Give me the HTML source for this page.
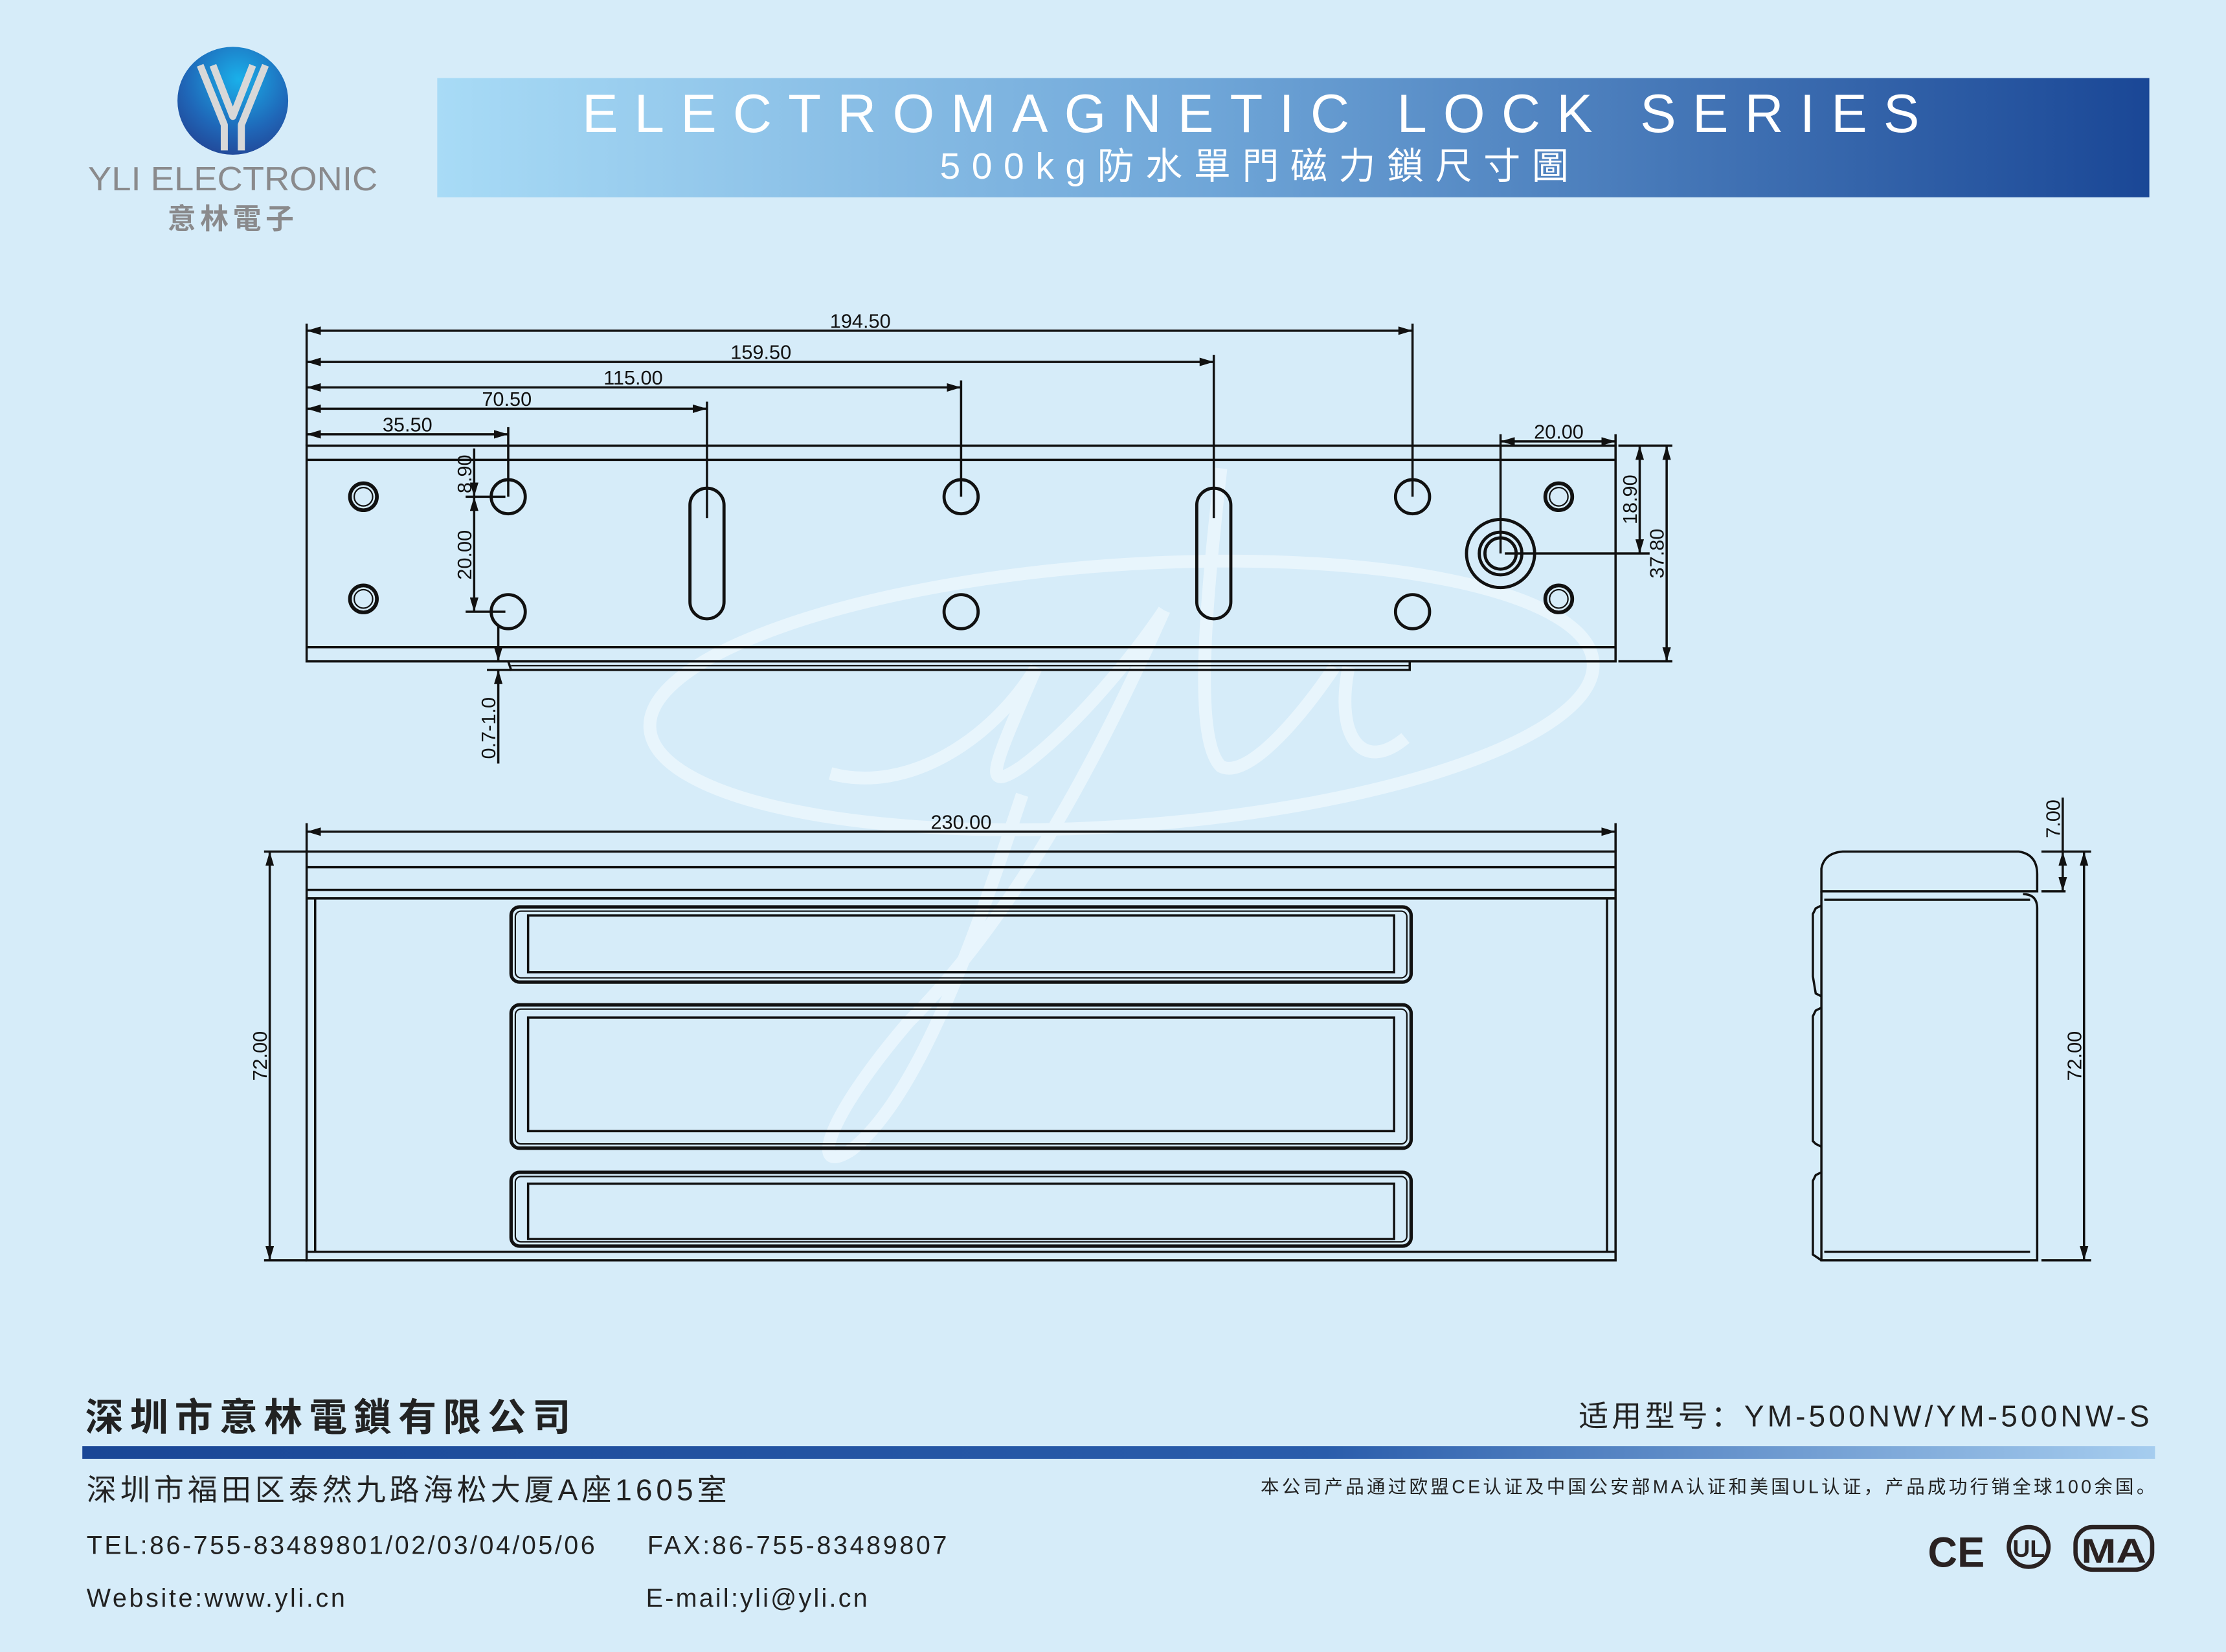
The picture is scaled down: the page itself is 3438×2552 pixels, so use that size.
<!DOCTYPE html>
<html><head><meta charset="utf-8"><style>
html,body{margin:0;padding:0;background:#d6ecf9;}
svg{display:block;}
text{font-family:"Liberation Sans","Noto Sans CJK SC",sans-serif;}
</style></head><body>
<svg width="3438" height="2552" viewBox="0 0 1568 1164" preserveAspectRatio="none" xmlns="http://www.w3.org/2000/svg">
<defs>
<linearGradient id="ban" x1="0" x2="1" y1="0" y2="0"><stop offset="0" stop-color="#a8dbf6"/><stop offset="0.45" stop-color="#6fa6d8"/><stop offset="1" stop-color="#1a4796"/></linearGradient>
<linearGradient id="bar" x1="0" x2="1"><stop offset="0" stop-color="#1a4796"/><stop offset="0.6" stop-color="#2a5dab"/><stop offset="1" stop-color="#a6cdef"/></linearGradient>
<radialGradient id="lg" cx="0.55" cy="0.3" r="0.8"><stop offset="0" stop-color="#1ab0ea"/><stop offset="0.6" stop-color="#1f67b8"/><stop offset="1" stop-color="#233f8f"/></radialGradient>
<marker id="a" viewBox="0 0 10 6" refX="10" refY="3" markerWidth="10" markerHeight="6" markerUnits="userSpaceOnUse" orient="auto-start-reverse"><path d="M0,0L10,3L0,6z" fill="#111"/></marker>
</defs>
<rect width="1568" height="1164" fill="#d6ecf9"/>
<!-- watermark -->
<g fill="none" stroke="#eef8fe" stroke-width="9" opacity="0.75">
<ellipse cx="790" cy="490" rx="333" ry="92" transform="rotate(-4 790 490)"/>
<path d="M585 545 C640 560 700 520 730 470 M730 470 C700 540 690 560 720 540 C760 510 800 460 820 430 M820 430 C780 520 720 640 640 720 C580 790 570 830 600 810 C650 770 690 650 720 560 M860 330 C850 420 840 520 860 540 C880 550 920 500 940 470 M950 470 C940 520 960 545 990 520"/>
</g>
<!-- logo -->
<ellipse cx="164" cy="71" rx="39" ry="38" fill="url(#lg)"/>
<path d="M141 46 L158 88 L158 106 M187 46 L170 88 L170 106 M150 46 L164 82 L178 46" fill="none" stroke="#d8d8d8" stroke-width="5" stroke-linejoin="round"/>
<text x="164" y="134" font-size="23.5" fill="#8a8a8c" text-anchor="middle" textLength="204" lengthAdjust="spacingAndGlyphs">YLI ELECTRONIC</text>
<text x="164" y="161" font-size="20" font-weight="bold" fill="#8a8a8c" text-anchor="middle" letter-spacing="3">意林電子</text>
<!-- banner -->
<rect x="308" y="55" width="1206" height="84" fill="url(#ban)"/>
<text x="410" y="93" font-size="38" fill="#fff" textLength="942" lengthAdjust="spacing">ELECTROMAGNETIC LOCK SERIES</text>
<text x="662" y="126" font-size="26" fill="#fff" textLength="443" lengthAdjust="spacing">500kg防水單門磁力鎖尺寸圖</text>

<g stroke="#111" fill="none" stroke-width="1.6">
<!-- top view -->
<rect x="216" y="314" width="922" height="152"/>
<line x1="216" y1="324" x2="1138" y2="324"/>
<line x1="216" y1="456" x2="1138" y2="456"/>
<path d="M358 466 L360 472 L993 472 L993 466"/>
<line x1="360" y1="469" x2="993" y2="469" stroke-width="1"/>
<g stroke-width="2.6">
<circle cx="256" cy="350" r="9.5"/><circle cx="256" cy="422" r="9.5"/><circle cx="1098" cy="350" r="9.5"/><circle cx="1098" cy="422" r="9.5"/>
</g>
<g stroke-width="1"><circle cx="256" cy="350" r="6.5"/><circle cx="256" cy="422" r="6.5"/><circle cx="1098" cy="350" r="6.5"/><circle cx="1098" cy="422" r="6.5"/></g>
<g stroke-width="2.2">
<circle cx="358" cy="350" r="12"/><circle cx="358" cy="431" r="12"/><circle cx="677" cy="350" r="12"/><circle cx="677" cy="431" r="12"/><circle cx="995" cy="350" r="12"/><circle cx="995" cy="431" r="12"/>
<rect x="486" y="344" width="24" height="92" rx="12"/><rect x="843" y="344" width="24" height="92" rx="12"/>
<circle cx="1057" cy="390" r="24"/><circle cx="1057" cy="390" r="15"/><circle cx="1057" cy="390" r="11"/>
</g>
<!-- top dims -->
<line x1="216" y1="228" x2="216" y2="314"/>
<line x1="216" y1="233" x2="995" y2="233" marker-start="url(#a)" marker-end="url(#a)"/><line x1="995" y1="228" x2="995" y2="350"/>
<line x1="216" y1="255" x2="855" y2="255" marker-start="url(#a)" marker-end="url(#a)"/><line x1="855" y1="250" x2="855" y2="365"/>
<line x1="216" y1="273" x2="677" y2="273" marker-start="url(#a)" marker-end="url(#a)"/><line x1="677" y1="268" x2="677" y2="350"/>
<line x1="216" y1="288" x2="498" y2="288" marker-start="url(#a)" marker-end="url(#a)"/><line x1="498" y1="283" x2="498" y2="365"/>
<line x1="216" y1="306" x2="358" y2="306" marker-start="url(#a)" marker-end="url(#a)"/><line x1="358" y1="301" x2="358" y2="350"/>
<!-- left small dims -->
<line x1="334" y1="316" x2="334" y2="350" marker-end="url(#a)"/>
<line x1="334" y1="350" x2="334" y2="431" marker-start="url(#a)" marker-end="url(#a)"/>
<line x1="328" y1="350" x2="356" y2="350"/><line x1="328" y1="431" x2="356" y2="431"/>
<line x1="351" y1="440" x2="351" y2="466" marker-end="url(#a)"/>
<line x1="351" y1="538" x2="351" y2="472" marker-end="url(#a)"/>
<line x1="343" y1="472" x2="360" y2="472"/>
<!-- right dims -->
<line x1="1057" y1="306" x2="1057" y2="390"/><line x1="1138" y1="306" x2="1138" y2="314"/>
<line x1="1057" y1="311" x2="1138" y2="311" marker-start="url(#a)" marker-end="url(#a)"/>
<line x1="1140" y1="314" x2="1178" y2="314"/><line x1="1140" y1="466" x2="1178" y2="466"/>
<line x1="1060" y1="390" x2="1162" y2="390"/>
<line x1="1155" y1="314" x2="1155" y2="390" marker-start="url(#a)" marker-end="url(#a)"/>
<line x1="1174" y1="314" x2="1174" y2="466" marker-start="url(#a)" marker-end="url(#a)"/>

<!-- front view -->
<line x1="216" y1="580" x2="216" y2="600"/><line x1="1138" y1="580" x2="1138" y2="600"/>
<line x1="216" y1="586" x2="1138" y2="586" marker-start="url(#a)" marker-end="url(#a)"/>
<rect x="216" y="600" width="922" height="288"/>
<line x1="216" y1="611" x2="1138" y2="611"/><line x1="216" y1="627" x2="1138" y2="627"/><line x1="216" y1="633" x2="1138" y2="633"/><line x1="216" y1="882" x2="1138" y2="882"/>
<line x1="222" y1="633" x2="222" y2="882"/><line x1="1132" y1="633" x2="1132" y2="882"/>
<g stroke-width="2.4">
<rect x="360" y="639" width="634" height="53" rx="6"/><rect x="360" y="708" width="634" height="101" rx="6"/><rect x="360" y="826" width="634" height="52" rx="6"/>
</g>
<g stroke-width="1">
<rect x="363" y="642" width="628" height="47" rx="4"/><rect x="363" y="711" width="628" height="95" rx="4"/><rect x="363" y="829" width="628" height="46" rx="4"/>
</g>
<rect x="372" y="645" width="610" height="40"/><rect x="372" y="717" width="610" height="80"/><rect x="372" y="834" width="610" height="39"/>
<line x1="186" y1="600" x2="216" y2="600"/><line x1="186" y1="888" x2="216" y2="888"/>
<line x1="190" y1="600" x2="190" y2="888" marker-start="url(#a)" marker-end="url(#a)"/>

<!-- side view -->
<path d="M1283 628 L1283 612 Q1285 601 1298 600 L1422 600 Q1435 602 1435 616 L1435 628 Z"/>
<path d="M1283 628 L1283 888 L1435 888 L1435 640 Q1435 630 1425 630"/>
<line x1="1285" y1="634" x2="1430" y2="634"/><line x1="1285" y1="882" x2="1430" y2="882"/>
<path d="M1283 638 L1279 640 L1277 644 L1277 688 L1279 700 L1283 702"/>
<path d="M1283 710 L1279 712 L1277 716 L1277 804 L1279 806 L1283 808"/>
<path d="M1283 826 L1279 828 L1277 832 L1277 884 L1283 888"/>
<line x1="1438" y1="600" x2="1473" y2="600"/><line x1="1438" y1="628" x2="1455" y2="628"/><line x1="1438" y1="888" x2="1473" y2="888"/>
<line x1="1453" y1="562" x2="1453" y2="600"/>
<line x1="1453" y1="600" x2="1453" y2="628" marker-start="url(#a)" marker-end="url(#a)"/>
<line x1="1468" y1="600" x2="1468" y2="888" marker-start="url(#a)" marker-end="url(#a)"/>
</g>
<!-- dim texts -->
<g font-size="14" fill="#111" font-weight="500">
<text x="606" y="231" text-anchor="middle">194.50</text>
<text x="536" y="253" text-anchor="middle">159.50</text>
<text x="446" y="271" text-anchor="middle">115.00</text>
<text x="357" y="286" text-anchor="middle">70.50</text>
<text x="287" y="304" text-anchor="middle">35.50</text>
<text x="1098" y="309" text-anchor="middle">20.00</text>
<text x="677" y="584" text-anchor="middle">230.00</text>
<text transform="translate(332,334) rotate(-90)" text-anchor="middle">8.90</text>
<text transform="translate(332,391) rotate(-90)" text-anchor="middle">20.00</text>
<text transform="translate(349,513) rotate(-90)" text-anchor="middle">0.7-1.0</text>
<text transform="translate(1153,352) rotate(-90)" text-anchor="middle">18.90</text>
<text transform="translate(1172,390) rotate(-90)" text-anchor="middle">37.80</text>
<text transform="translate(188,744) rotate(-90)" text-anchor="middle">72.00</text>
<text transform="translate(1451,577) rotate(-90)" text-anchor="middle">7.00</text>
<text transform="translate(1466,744) rotate(-90)" text-anchor="middle">72.00</text>
</g>
<!-- footer -->
<text x="60" y="1008" font-size="27" font-weight="bold" fill="#222" textLength="342" lengthAdjust="spacing">深圳市意林電鎖有限公司</text>
<text x="1112" y="1005" font-size="21" fill="#222" textLength="402" lengthAdjust="spacing">适用型号：YM-500NW/YM-500NW-S</text>
<rect x="58" y="1019" width="1460" height="9" fill="url(#bar)"/>
<text x="61" y="1057" font-size="21" fill="#222" textLength="451" lengthAdjust="spacing">深圳市福田区泰然九路海松大厦A座1605室</text>
<text x="1518" y="1052" font-size="13" fill="#222" text-anchor="end" textLength="630" lengthAdjust="spacing">本公司产品通过欧盟CE认证及中国公安部MA认证和美国UL认证，产品成功行销全球100余国。</text>
<text x="61" y="1095" font-size="18" fill="#222" textLength="358" lengthAdjust="spacing">TEL:86-755-83489801/02/03/04/05/06</text>
<text x="456" y="1095" font-size="18" fill="#222" textLength="211" lengthAdjust="spacing">FAX:86-755-83489807</text>
<text x="61" y="1132" font-size="18" fill="#222" textLength="182" lengthAdjust="spacing">Website:www.yli.cn</text>
<text x="455" y="1132" font-size="18" fill="#222" textLength="156" lengthAdjust="spacing">E-mail:yli@yli.cn</text>
<!-- cert logos -->
<g fill="#2a2222">
<text x="1358" y="1104" font-size="30" font-weight="bold" textLength="40" lengthAdjust="spacingAndGlyphs">CE</text>
<circle cx="1429" cy="1090" r="14" fill="none" stroke="#2a2222" stroke-width="3"/>
<text x="1429" y="1097" font-size="17" font-weight="bold" text-anchor="middle">UL</text>
<rect x="1462" y="1076" width="54" height="30" rx="12" fill="none" stroke="#2a2222" stroke-width="3"/>
<text x="1489" y="1101" font-size="24" font-weight="bold" text-anchor="middle" textLength="46" lengthAdjust="spacingAndGlyphs">MA</text>
</g>
</svg>
</body></html>
